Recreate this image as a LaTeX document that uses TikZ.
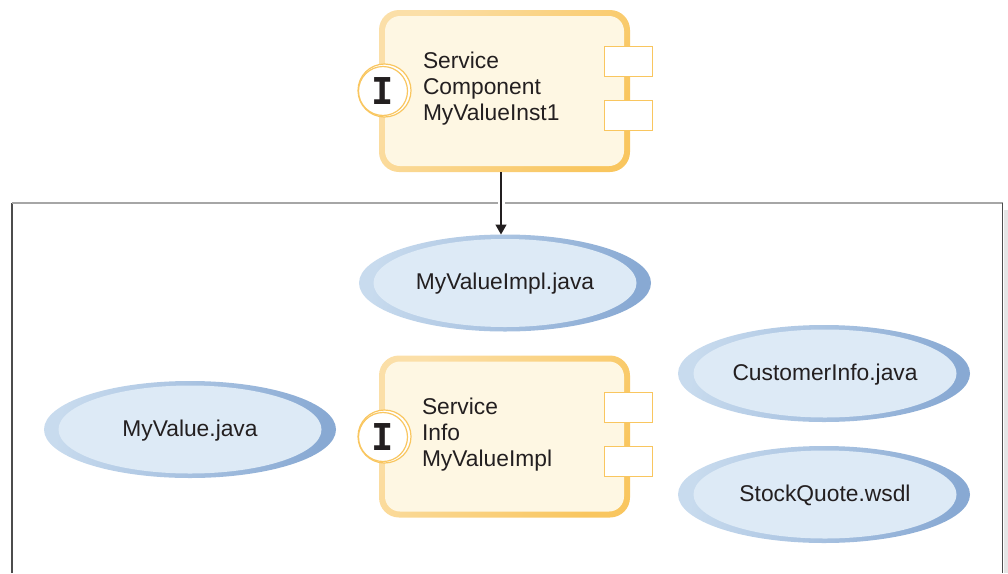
\documentclass[tikz,border=0pt]{standalone}
\usepackage{fontspec}
\setmainfont{Liberation Sans}
\newfontfamily\glyphfont{DejaVu Sans Mono}
\usetikzlibrary{shapes.geometric,arrows.meta}
\definecolor{txt}{HTML}{231F20}
\definecolor{gold}{HTML}{F9C65F}
\definecolor{goldlight}{HTML}{FBDFA8}
\definecolor{boxfill}{HTML}{FEF7E3}
\definecolor{elfill}{HTML}{DDEAF6}
\definecolor{elleft}{HTML}{C8DBEE}
\definecolor{elright}{HTML}{88A9D3}
\tikzset{
  x=1pt,y=-1pt,
  every node/.style={inner sep=0pt,outer sep=0pt,text=txt,font=\fontsize{22.8}{26}\selectfont},
  compouter/.style={rectangle,rounded corners=20pt,minimum width=251pt,minimum height=162pt,
     left color=goldlight,right color=gold,shading angle=60},
  compinner/.style={rectangle,rounded corners=15pt,minimum width=239pt,minimum height=150pt,fill=boxfill},
  elouter/.style={ellipse,minimum width=292pt,minimum height=97pt,
     left color=elleft,right color=elright,shading angle=80},
  elinner/.style={ellipse,minimum width=263pt,minimum height=88pt,fill=elfill,text height=16pt,text depth=3pt},
  portbox/.style={rectangle,draw=gold,line width=1.8pt,fill=white,minimum width=48pt,minimum height=30pt},
  ringouter/.style={circle,draw=gold,line width=1.2pt,fill=white,minimum size=53pt},
  ringinner/.style={circle,draw=gold,line width=1.2pt,fill=white,minimum size=49pt,
     font=\glyphfont\bfseries\fontsize{37}{37}\selectfont},
  complabel/.style={anchor=west,align=left},
  arrowline/.style={line width=1.5pt,draw=txt,-{Triangle[length=10pt,width=11pt]}},
}
\begin{document}
\begin{tikzpicture}
\useasboundingbox (0,0) rectangle (1008,573);
% frame
\fill[black!10] (1004,210) rectangle (1008,573);
\coordinate (fa) at (12,573);
\coordinate (fb) at (12,203);
\coordinate (fc) at (1002.5,203);
\coordinate (fd) at (1002.5,573);
\draw[line width=1.2pt,color=black!70] (fa) -- (fb);
\draw[line width=1.2pt,color=black!35] (fb) -- (fc);
\draw[line width=1.2pt,color=black!70] (fc) -- (fd);
% top component
\node[compouter] (c1o) at (504.5,91) {};
\node[compinner] (c1) at (504.5,91) {};
\node[complabel] (c1t) at (423,88.5) {Service\\Component\\MyValueInst1};
\node[portbox] (c1p1) at (628.5,61.5) {};
\node[portbox] (c1p2) at (628.5,115.5) {};
\node[ringouter] (c1ro) at (384.5,90.5) {};
\node[ringinner] (c1r) at (383,91) {I};
% impl ellipse
\node[elouter] (e1o) at (505,283) {};
\node[elinner] (e1) at (505,283) {MyValueImpl.java};
% connector
\draw[white,line width=7pt] (501,198) -- (501,208);
\draw[arrowline] (c1o.south -| 501,0) -- (e1o.north -| 501,0);
% second component
\node[compouter] (c2o) at (504.5,436.5) {};
\node[compinner] (c2) at (504.5,436.5) {};
\node[complabel] (c2t) at (422,434.5) {Service\\Info\\MyValueImpl};
\node[portbox] (c2p1) at (628.5,407.5) {};
\node[portbox] (c2p2) at (628.5,461.5) {};
\node[ringouter] (c2ro) at (384.5,436.5) {};
\node[ringinner] (c2r) at (383,437) {I};
% other ellipses
\node[elouter] (e2o) at (190,429.5) {};
\node[elinner] (e2) at (190,429.5) {MyValue.java};
\node[elouter] (e3o) at (824,373.5) {};
\node[elinner] (e3) at (825,373.5) {CustomerInfo.java};
\node[elouter] (e4o) at (824,494.5) {};
\node[elinner] (e4) at (825,494.5) {StockQuote.wsdl};
\end{tikzpicture}
\end{document}
